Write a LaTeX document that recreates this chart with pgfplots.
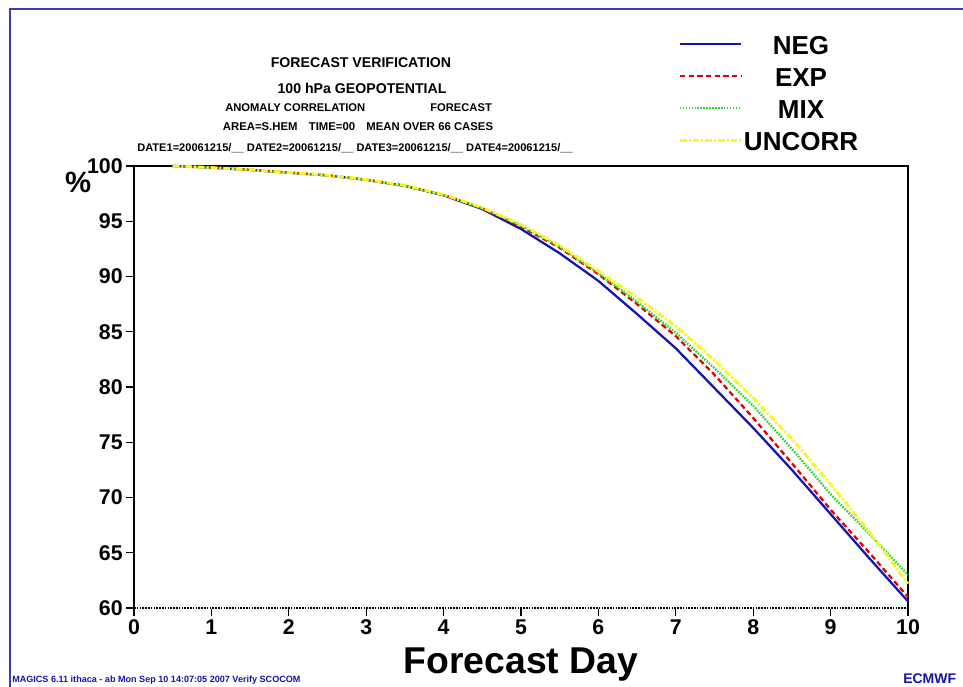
\documentclass[border=0pt]{standalone}
\usepackage{fontspec}
\setmainfont{Liberation Sans}
\usepackage{pgfplots}
\pgfplotsset{compat=1.18}
\definecolor{negblue}{RGB}{20,20,180}
\definecolor{expred}{RGB}{225,0,0}
\definecolor{mixgreen}{RGB}{40,215,40}
\definecolor{uncyellow}{RGB}{250,245,40}
\definecolor{framecol}{RGB}{60,60,170}
\definecolor{footblue}{RGB}{20,20,170}
\pgfplotstableread{
d neg exp mix unc
0.5 100.0 100.0 100.0 100.0
1.0 99.85 99.86 99.84 99.86
1.5 99.65 99.66 99.63 99.66
2.0 99.40 99.41 99.39 99.42
2.5 99.15 99.16 99.14 99.17
3.0 98.75 98.76 98.74 98.78
3.5 98.20 98.22 98.20 98.25
4.0 97.35 97.38 97.37 97.42
4.5 96.10 96.16 96.17 96.24
5.0 94.30 94.50 94.60 94.70
5.5 92.10 92.60 92.70 92.80
6.0 89.60 90.20 90.30 90.50
6.5 86.60 87.50 87.70 88.10
7.0 83.50 84.60 84.90 85.50
7.5 79.90 81.10 81.70 82.40
8.0 76.30 77.20 78.30 79.00
8.5 72.50 73.10 74.40 75.30
9.0 68.50 68.90 70.30 71.20
9.5 64.50 65.00 66.70 66.90
10.0 60.60 61.00 63.00 62.20
}\datatable
\begin{document}
\begin{tikzpicture}[x=0.75pt,y=0.75pt]
\useasboundingbox (0,0) rectangle (963,686);
\draw[framecol, line width=1.5pt] (9.5,-30) -- (9.5,676.5) -- (1000,676.5);
\begin{axis}[
  at={(100.5pt,58.5pt)}, anchor=south west,
  scale only axis, width=580.5pt, height=331.5pt,
  xmin=0, xmax=10, ymin=60, ymax=100,
  xtick={0,1,...,10}, ytick={60,65,...,100},
  tick align=outside, xtick pos=bottom, ytick pos=left,
  major tick length=6pt,
  axis line style={black, line width=0.9pt},
  every tick/.style={black, line width=0.9pt},
  tick label style={font=\fontsize{16}{16}\selectfont\bfseries},
  /pgf/number format/assume math mode=true,
  xticklabel style={yshift=1pt},
  yticklabel style={xshift=1pt},
  xlabel={\textbf{Forecast Day}},
  xlabel style={font=\fontsize{28}{28}\selectfont, yshift=-3pt},
  ylabel={\textbf{\%}},
  ylabel style={rotate=-90, at={(axis description cs:-0.072,0.962)}, anchor=center, font=\fontsize{22}{22}\selectfont},
  clip=false,
  legend style={at={(axis description cs:0.703,1.298)}, anchor=north west, draw=none, fill=none,
    font=\fontsize{19.5}{19.5}\selectfont\bfseries, inner sep=0pt, row sep=7.2pt,
    nodes={inner sep=1pt}},
  legend cell align=center,
  legend image code/.code={\draw[#1] (0pt,1.6pt) -- (46pt,1.6pt);},
]
\addplot[negblue, line width=1.7pt] table[x=d, y=neg] {\datatable};
\addplot[expred, line width=1.7pt, dash pattern=on 4pt off 2.5pt] table[x=d, y=exp] {\datatable};
\addplot[mixgreen, line width=1.7pt, dash pattern=on 1.2pt off 1pt] table[x=d, y=mix] {\datatable};
\addplot[uncyellow, line width=2.2pt, dash pattern=on 5pt off 1.5pt on 1.5pt off 1.5pt] table[x=d, y=unc] {\datatable};
\legend{NEG,EXP,MIX,UNCORR}
\draw[white, line width=1.4pt] (axis cs:0,60) -- (axis cs:10,60);
\draw[black, line width=0.9pt, dash pattern=on 1.2pt off 0.9pt] (axis cs:0,60) -- (axis cs:10,60);
\end{axis}
\node[font=\fontsize{10.6}{10.6}\selectfont\bfseries] at (361,686-63) {FORECAST VERIFICATION};
\node[font=\fontsize{10.6}{10.6}\selectfont\bfseries] at (362,686-88) {100 hPa GEOPOTENTIAL};
\node[font=\fontsize{8.4}{8.4}\selectfont\bfseries, anchor=west, inner sep=0pt] at (225,686-108) {ANOMALY CORRELATION};
\node[font=\fontsize{8.4}{8.4}\selectfont\bfseries, anchor=west, inner sep=0pt] at (430,686-108) {FORECAST};
\node[font=\fontsize{8.5}{8.5}\selectfont\bfseries] at (358,686-127) {AREA=S.HEM\quad TIME=00\quad MEAN OVER 66 CASES};
\node[font=\fontsize{8.3}{8.3}\selectfont\bfseries] at (355,686-148) {DATE1=20061215/\_\_ DATE2=20061215/\_\_ DATE3=20061215/\_\_ DATE4=20061215/\_\_};
\node[font=\fontsize{6.8}{6.8}\selectfont\bfseries, text=footblue, anchor=west, inner sep=0pt] at (12,686-680) {MAGICS 6.11 ithaca - ab Mon Sep 10 14:07:05 2007 Verify SCOCOM};
\node[font=\fontsize{10.5}{10.5}\selectfont\bfseries, text=footblue, anchor=west, inner sep=0pt] at (903,686-679) {ECMWF};
\end{tikzpicture}
\end{document}
